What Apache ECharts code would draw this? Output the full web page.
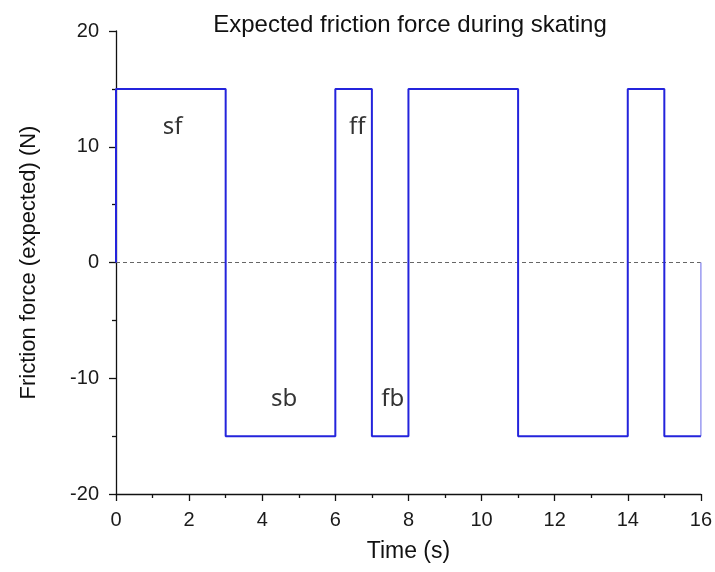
<!DOCTYPE html>
<html>
<head>
<meta charset="utf-8">
<script src="https://cdn.jsdelivr.net/npm/echarts@6/dist/echarts.min.js"></script>
<style>
  html, body { margin: 0; padding: 0; background: #fff; }
  #chart { width: 715px; height: 572px; }
</style>
</head>
<body>
<div id="chart"></div>
<script>
// Phase boundaries (s) and the expected friction force held in each phase (N)
const phaseEdges = [0, 3, 6, 7, 8, 11, 14, 15, 16];
const phaseForce = [15, -15, 15, -15, 15, -15, 15, -15];

// Phase annotations: name, time (s), force (N)
const phaseNames = ['sf', 'sb', 'ff', 'fb'];
const phaseLabelX = [1.55, 4.6, 6.6, 7.57];
const phaseLabelY = [11.7, -11.8, 11.7, -11.8];

// Axis ticks
const xTicks = { min: 0, max: 16, step: 2 };
const yTicks = { min: -20, max: 20, step: 10 };

// Build the square-wave path from the phase table
const wave = [[phaseEdges[0], 0]];
for (let i = 0; i < phaseForce.length; i++) {
  wave.push([phaseEdges[i], phaseForce[i]]);
  wave.push([phaseEdges[i + 1], phaseForce[i]]);
}
const last = phaseEdges[phaseEdges.length - 1];
const tail = [[last, phaseForce[phaseForce.length - 1]], [last, 0]];
const zeroLine = [[phaseEdges[0], 0], [last, 0]];

const chart = echarts.init(document.getElementById('chart'), null, { renderer: 'canvas' });
const sans = 'Liberation Sans, Arial, sans-serif';
const axisText = { fontFamily: sans, fontSize: 20, color: '#1a1a1a' };

chart.setOption({
  animation: false,
  backgroundColor: '#fff',
  title: {
    text: 'Expected friction force during skating',
    left: 405, top: 8, textAlign: 'center',
    textStyle: { fontFamily: sans, fontSize: 24, fontWeight: 'normal', color: '#111' }
  },
  grid: { left: 116, right: 10, top: 31, bottom: 78, containLabel: false },
  xAxis: {
    type: 'value', min: xTicks.min, max: xTicks.max, interval: xTicks.step,
    name: 'Time (s)', nameLocation: 'middle', nameGap: 46,
    nameTextStyle: { fontFamily: sans, fontSize: 23, color: '#111' },
    axisLine: { show: true, onZero: false, lineStyle: { color: '#111', width: 1.3 } },
    axisTick: { show: true, inside: false, length: 7, lineStyle: { color: '#111', width: 1.3 } },
    minorTick: { show: true, splitNumber: 2, length: 4, lineStyle: { color: '#111', width: 1.3 } },
    axisLabel: Object.assign({ margin: 16 }, axisText),
    splitLine: { show: false }
  },
  yAxis: {
    type: 'value', min: yTicks.min, max: yTicks.max, interval: yTicks.step,
    name: 'Friction force (expected) (N)', nameLocation: 'middle', nameGap: 76, nameRotate: 90,
    nameTextStyle: { fontFamily: sans, fontSize: 22, color: '#111' },
    axisLine: { show: true, onZero: false, lineStyle: { color: '#111', width: 1.3 } },
    axisTick: { show: true, inside: false, length: 7, lineStyle: { color: '#111', width: 1.3 } },
    minorTick: { show: true, splitNumber: 2, length: 4, lineStyle: { color: '#111', width: 1.3 } },
    axisLabel: Object.assign({ margin: 17 }, axisText),
    splitLine: { show: false }
  },
  series: [
    {
      type: 'line', data: zeroLine, symbol: 'none', silent: true,
      lineStyle: { color: '#666', width: 1, type: [4, 3] }, z: 1
    },
    {
      type: 'line', data: wave, symbol: 'none',
      lineStyle: { color: '#2424dc', width: 2 }, z: 3
    },
    {
      type: 'line', data: tail, symbol: 'none',
      lineStyle: { color: '#9a9af0', width: 1.5 }, z: 2
    },
    {
      type: 'scatter', symbolSize: 0, z: 4,
      data: phaseNames.map((n, i) => ({ name: n, value: [phaseLabelX[i], phaseLabelY[i]] })),
      label: {
        show: true, position: 'inside', formatter: p => p.name,
        fontFamily: 'Noto Sans, Open Sans, sans-serif', fontSize: 24, color: '#000'
      }
    }
  ]
});
</script>
</body>
</html>
